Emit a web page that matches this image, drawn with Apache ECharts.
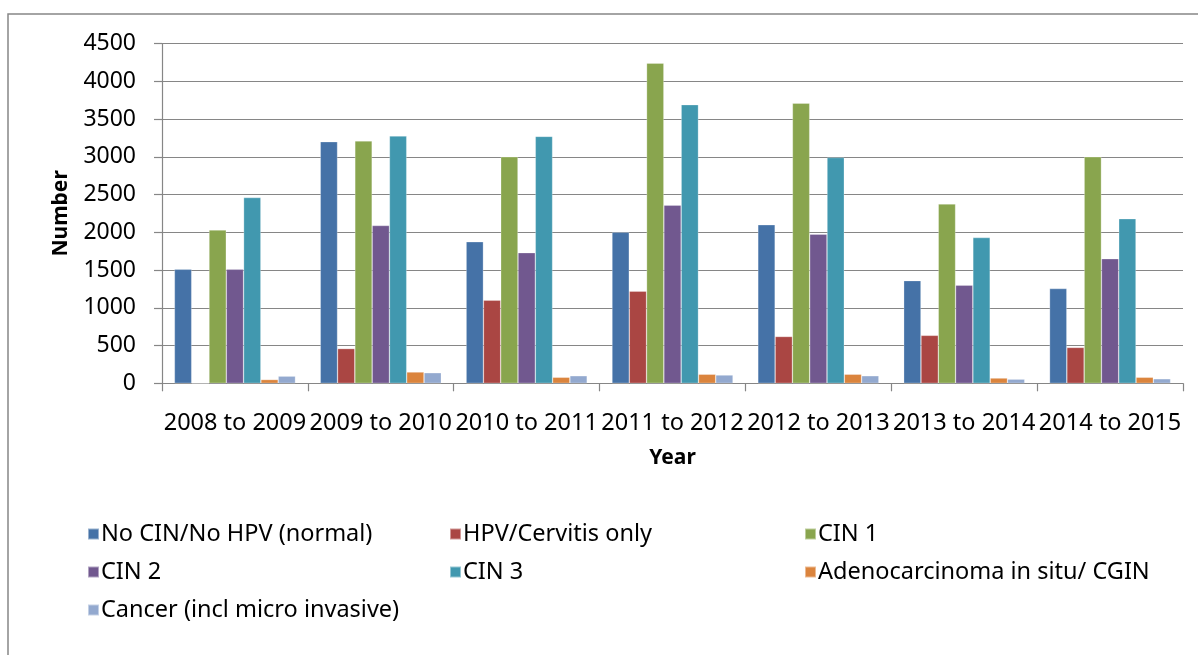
<!DOCTYPE html>
<html>
<head>
<meta charset="utf-8">
<script src="https://cdn.jsdelivr.net/npm/echarts@6/dist/echarts.min.js"></script>
<style>
  html, body { margin: 0; padding: 0; background: #fff; }
  #chart { width: 1198px; height: 655px; }
</style>
</head>
<body>
<div id="chart"></div>
<script>
var years = ['2008 to 2009', '2009 to 2010', '2010 to 2011', '2011 to 2012', '2012 to 2013', '2013 to 2014', '2014 to 2015'];
var seriesNames = ['No CIN/No HPV (normal)', 'HPV/Cervitis only', 'CIN 1', 'CIN 2', 'CIN 3', 'Adenocarcinoma in situ/ CGIN', 'Cancer (incl micro invasive)'];
var normal = [1510, 3200, 1875, 2000, 2100, 1360, 1255];
var hpvCervitis = [0, 460, 1100, 1220, 620, 635, 475];
var cin1 = [2030, 3210, 3000, 4240, 3710, 2375, 3000];
var cin2 = [1510, 2090, 1730, 2360, 1975, 1300, 1650];
var cin3 = [2460, 3275, 3270, 3690, 2990, 1930, 2180];
var adeno = [50, 150, 80, 120, 120, 70, 80];
var cancer = [95, 140, 100, 110, 100, 55, 60];
var yTicks = [0, 4500, 500];

var colors = ['#4572A7', '#AA4643', '#89A54E', '#71588F', '#4198AF', '#DB843D', '#93A9CF'];
var allData = [normal, hpvCervitis, cin1, cin2, cin3, adeno, cancer];
var font = 'Noto Sans';

var mychart = echarts.init(document.getElementById('chart'));

var series = [];
for (var i = 0; i < seriesNames.length; i++) {
    series.push({
        name: seriesNames[i],
        type: 'bar',
        data: allData[i],
        barGap: '0%',
        barCategoryGap: '17%',
        itemStyle: {
            color: colors[i],
            borderColor: 'rgba(255,255,255,0.45)',
            borderWidth: 0.6
        }
    });
}

// three legend columns, like the spreadsheet layout
function legendCol(names, left) {
    return {
        orient: 'vertical',
        left: left,
        top: 517,
        itemGap: 14,
        itemWidth: 11,
        itemHeight: 11,
        icon: 'rect',
        data: names,
        textStyle: { fontFamily: font, fontSize: 23.5, lineHeight: 24, color: '#000', padding: [0, 0, 0, -3] }
    };
}

var option = {
    animation: false,
    color: colors,
    graphic: [{
        type: 'rect',
        shape: { x: 8, y: 14, width: 1200, height: 700 },
        style: { fill: 'none', stroke: '#878787', lineWidth: 1.5 },
        silent: true
    }],
    legend: [
        legendCol([seriesNames[0], seriesNames[3], seriesNames[6]], 82),
        legendCol([seriesNames[1], seriesNames[4]], 444),
        legendCol([seriesNames[2], seriesNames[5]], 799)
    ],
    grid: {
        left: 162,
        right: 15,
        top: 43.5,
        bottom: 271.7,
        containLabel: false
    },
    xAxis: {
        type: 'category',
        data: years,
        name: 'Year',
        nameLocation: 'middle',
        nameGap: 64,
        nameTextStyle: { fontFamily: font, fontSize: 21, fontWeight: 'bold', color: '#000' },
        axisLine: { lineStyle: { color: '#868686', width: 1.2 } },
        axisTick: { show: true, length: 8, lineStyle: { color: '#868686', width: 1.2 } },
        axisLabel: { interval: 0, margin: 28, fontFamily: font, fontSize: 23.5, color: '#000' }
    },
    yAxis: {
        type: 'value',
        min: yTicks[0],
        max: yTicks[1],
        interval: yTicks[2],
        name: 'Number',
        nameLocation: 'middle',
        nameGap: 90,
        nameRotate: 90,
        nameTextStyle: { fontFamily: font, fontSize: 21, fontWeight: 'bold', color: '#000' },
        axisLine: { show: true, lineStyle: { color: '#868686', width: 1.2 } },
        axisTick: { show: true, length: 8, lineStyle: { color: '#868686', width: 1.2 } },
        axisLabel: {
            margin: 26, fontFamily: font, fontSize: 23, color: '#000',
            formatter: function (v) { return String(v); }
        },
        splitLine: { lineStyle: { color: '#868686', width: 1.2 } }
    },
    series: series
};
mychart.setOption(option);
</script>
</body>
</html>
